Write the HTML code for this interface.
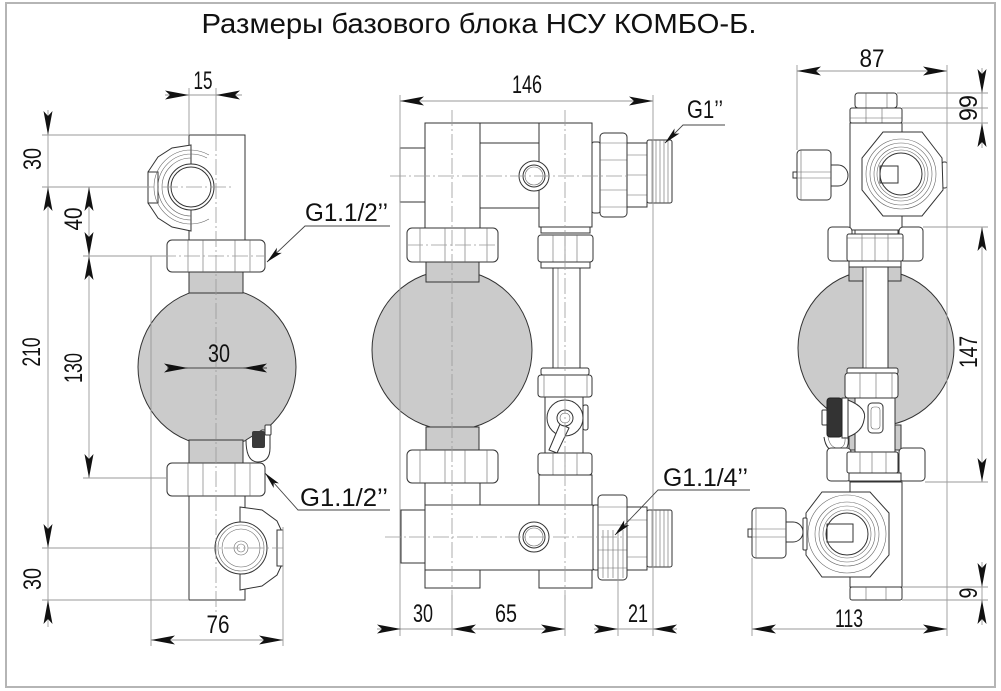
<!DOCTYPE html>
<html><head><meta charset="utf-8"><style>
html,body{margin:0;padding:0;background:#fff;}
svg{display:block;}
</style></head><body>
<svg width="1001" height="691" viewBox="0 0 1001 691" xmlns="http://www.w3.org/2000/svg">
<defs>
<path id="a" d="M0,0 L-24,-4.5 L-19,0 L-24,4.5 Z" fill="#111"/>
<path id="b" d="M0,0 L-17,-3.5 L-13,0 L-17,3.5 Z" fill="#111"/>
</defs>
<style>
.o{fill:#fff;stroke:#333;stroke-width:1}
.l{fill:none;stroke:#333;stroke-width:1}
.t{fill:none;stroke:#666;stroke-width:.6}
.d{fill:none;stroke:#9a9a9a;stroke-width:.9}
.k{fill:none;stroke:#444;stroke-width:.9}
.c{fill:none;stroke:#999;stroke-width:.8;stroke-dasharray:16 3 2 3}
.g{fill:#cbcbcb;stroke:#333;stroke-width:1}
.n{font-family:"Liberation Sans",sans-serif;font-size:25px;fill:#111}
</style>
<rect x="0" y="0" width="1001" height="691" fill="#fff"/>
<rect x="6" y="3" width="989" height="684" fill="none" stroke="#b5b5b5" stroke-width="2"/>
<text x="479" y="33" font-family="Liberation Sans, sans-serif" font-size="28" fill="#111" text-anchor="middle" textLength="555" lengthAdjust="spacingAndGlyphs">Размеры базового блока НСУ КОМБО-Б.</text>

<!-- ============ LEFT VIEW ============ -->
<circle cx="217" cy="367" r="79" class="g"/>
<rect x="189" y="272" width="54" height="21" class="g"/>
<rect x="189" y="440" width="54" height="23" class="g"/>
<rect x="189" y="135" width="56" height="105" class="o"/>
<rect x="189" y="496" width="56" height="104" class="o"/>
<!-- top fitting -->
<path class="o" d="M191,145 L172,148 L158,157 L148,172 L148,203 L158,218 L172,227 L191,231 Z"/>
<rect x="148" y="172" width="10" height="31" class="o"/>
<path class="t" d="M191,150 A37,37 0 0 0 191,224 M191,154 A33,33 0 0 0 191,220 M191,158 A29,29 0 0 0 191,216 M191,150 A37,37 0 0 1 209,155 M191,154 A33,33 0 0 1 207,158 M191,224 A37,37 0 0 0 209,219"/>
<circle cx="191" cy="187" r="23" class="o"/>
<circle cx="191" cy="187" r="20" class="l" stroke-width="1.3"/>
<!-- nuts -->
<rect x="167" y="240" width="98" height="32" rx="5" class="o"/>
<path class="t" d="M188,240V272M203,240V272M235,240V272M250,240V272"/>
<rect x="167" y="463" width="98" height="33" rx="5" class="o"/>
<path class="t" d="M188,463V496M203,463V496M235,463V496M250,463V496"/>
<!-- small valve -->
<path class="o" d="M246,440 Q246,462 258,462 Q270,462 270,448 L270,430 L262,430 Z"/>
<rect x="252" y="431" width="13" height="17" rx="2" fill="#3a3a3a"/>
<rect x="265" y="425" width="6" height="10" rx="1" class="o"/>
<!-- lower fitting -->
<path class="o" d="M240,507 L262,510 L277,521 L283,534 L283,562 L277,575 L262,586 L240,590 Z"/>
<rect x="277" y="530" width="6" height="36" class="o"/>
<circle cx="241" cy="548" r="26" class="o"/>
<circle cx="241" cy="548" r="23" class="t"/>
<circle cx="241" cy="548" r="19" class="t"/>
<circle cx="241" cy="548" r="7" class="t"/>
<circle cx="241" cy="548" r="4" class="t"/>
<!-- center lines -->
<path class="c" d="M216,135V612 M42,187H232 M160,256H265 M200,548H283"/>
<!-- dims -->
<path class="d" d="M165,95H242 M189,88V135 M216,88V135 M48,110V627 M42,135H189 M42,187H150 M89,187V478 M83,256H167 M83,478H167 M42,548H200 M42,600H189 M151,256V646 M283,527V646 M151,640H283"/>
<path class="k" d="M167,368H267"/>
<use href="#a" transform="translate(189,95)"/>
<use href="#a" transform="translate(216,95) rotate(180)"/>
<use href="#a" transform="translate(48,135) rotate(90)"/>
<use href="#a" transform="translate(48,187) rotate(-90)"/>
<use href="#a" transform="translate(89,187) rotate(-90)"/>
<use href="#a" transform="translate(89,256) rotate(90)"/>
<use href="#a" transform="translate(89,256) rotate(-90)"/>
<use href="#a" transform="translate(89,478) rotate(90)"/>
<use href="#a" transform="translate(48,548) rotate(90)"/>
<use href="#a" transform="translate(48,600) rotate(-90)"/>
<use href="#a" transform="translate(188,368)"/>
<use href="#a" transform="translate(243,368) rotate(180)"/>
<use href="#a" transform="translate(151,640) rotate(180)"/>
<use href="#a" transform="translate(283,640)"/>
<!-- leaders -->
<path class="k" d="M267,262L305,226H390 M265,473L298,510H390"/>
<use href="#b" transform="translate(267,262) rotate(136.5)"/>
<use href="#b" transform="translate(265,473) rotate(228.3)"/>
<!-- texts -->
<text class="n" x="203" y="89" text-anchor="middle" textLength="19" lengthAdjust="spacingAndGlyphs">15</text>
<text class="n" x="219" y="362" text-anchor="middle" textLength="22" lengthAdjust="spacingAndGlyphs">30</text>
<text class="n" x="218" y="633" text-anchor="middle" textLength="23" lengthAdjust="spacingAndGlyphs">76</text>
<text class="n" transform="translate(41,159) rotate(-90)" text-anchor="middle" textLength="22" lengthAdjust="spacingAndGlyphs">30</text>
<text class="n" transform="translate(82,219) rotate(-90)" text-anchor="middle" textLength="23" lengthAdjust="spacingAndGlyphs">40</text>
<text class="n" transform="translate(40,352) rotate(-90)" text-anchor="middle" textLength="29" lengthAdjust="spacingAndGlyphs">210</text>
<text class="n" transform="translate(82,368) rotate(-90)" text-anchor="middle" textLength="30" lengthAdjust="spacingAndGlyphs">130</text>
<text class="n" transform="translate(41,579) rotate(-90)" text-anchor="middle" textLength="22" lengthAdjust="spacingAndGlyphs">30</text>
<text class="n" x="305" y="221" textLength="83" lengthAdjust="spacingAndGlyphs">G1.1/2’’</text>
<text class="n" x="300" y="506" textLength="88" lengthAdjust="spacingAndGlyphs">G1.1/2’’</text>

<!-- ============ MIDDLE VIEW ============ -->
<circle cx="452" cy="350" r="80" class="g"/>
<rect x="426" y="262" width="53" height="20" class="g"/>
<rect x="426" y="427" width="53" height="23" class="g"/>
<rect x="400" y="148" width="25" height="54" class="o"/>
<rect x="425" y="123" width="55" height="105" class="o"/>
<rect x="480" y="143" width="59" height="65" class="o"/>
<path class="l" d="M480,123H539"/>
<rect x="539" y="123" width="53" height="104" class="o"/>
<rect x="541" y="227" width="49" height="6" class="o"/>
<circle cx="534" cy="176" r="15" class="o"/>
<circle cx="534" cy="176" r="11" class="l"/>
<circle cx="534" cy="176" r="9" class="t"/>
<!-- upper right fitting G1 -->
<rect x="592" y="142" width="8" height="71" rx="2" class="o"/>
<rect x="600" y="133" width="27" height="84" rx="4" class="o"/>
<path class="t" d="M600,143H627M600,160H627M600,190H627M600,207H627"/>
<rect x="627" y="143" width="20" height="64" class="o"/>
<path class="t" d="M627,155H647M627,195H647M627,175H647"/>
<rect x="647" y="140" width="25" height="63" rx="2" class="o"/>
<path class="t" d="M652,140V203M656,140V203M660,140V203M664,140V203M668,140V203"/>
<!-- left nuts -->
<rect x="407" y="228" width="91" height="34" rx="5" class="o"/>
<path class="t" d="M420,228V262M445,228V262M465,228V262M487,228V262"/>
<rect x="407" y="450" width="91" height="33" rx="5" class="o"/>
<path class="t" d="M420,450V483M445,450V483M465,450V483M487,450V483"/>
<rect x="425" y="483" width="55" height="22" class="o"/>
<!-- right tube & valve -->
<rect x="553" y="268" width="27" height="100" class="o"/>
<path class="t" d="M558,268V368"/>
<rect x="538" y="235" width="55" height="27" rx="3" class="o"/>
<path class="t" d="M553,235V262M565,235V262M577,235V262"/>
<rect x="541" y="262" width="49" height="6" class="o"/>
<rect x="541" y="368" width="48" height="7" rx="2" class="o"/>
<rect x="538" y="375" width="54" height="22" rx="3" class="o"/>
<path class="t" d="M544,375V397M565,375V397M587,375V397"/>
<rect x="545" y="397" width="38" height="56" class="o"/>
<rect x="583" y="405" width="5" height="25" rx="2" class="o"/>
<circle cx="565" cy="418" r="18" class="o"/>
<polygon class="o" points="560,424 569,428 557,453 549,450"/>
<circle cx="565" cy="418" r="8" class="o"/>
<circle cx="565" cy="418" r="5" class="t"/>
<rect x="538" y="453" width="54" height="22" rx="3" class="o"/>
<path class="t" d="M553,453V475M565,453V475M577,453V475"/>
<rect x="539" y="475" width="53" height="30" class="o"/>
<!-- manifold -->
<rect x="401" y="510" width="24" height="53" class="o"/>
<rect x="425" y="505" width="168" height="65" class="o"/>
<rect x="425" y="570" width="55" height="18" class="o"/>
<rect x="539" y="570" width="53" height="18" class="o"/>
<circle cx="534" cy="537" r="15" class="o"/>
<circle cx="534" cy="537" r="11" class="l"/>
<circle cx="534" cy="537" r="9" class="t"/>
<!-- lower right fitting -->
<rect x="593" y="505" width="6" height="65" rx="2" class="o"/>
<rect x="598" y="495" width="29" height="85" rx="4" class="o"/>
<path class="t" d="M598,507H627M598,525H627M598,550H627M598,568H627M603,530V578M608,530V578M613,530V578M618,530V578M623,530V578"/>
<rect x="627" y="507" width="20" height="63" class="o"/>
<path class="t" d="M627,520H647M627,557H647M627,537H647"/>
<rect x="647" y="510" width="25" height="57" rx="2" class="o"/>
<path class="t" d="M652,510V567M656,510V567M660,510V567M664,510V567M668,510V567"/>
<!-- center lines -->
<path class="c" d="M390,176H630 M385,537H625 M452,110V600 M565,110V600 M407,245H498"/>
<!-- dims -->
<path class="d" d="M400,101H653 M400,95V636 M653,95V636 M452,595V636 M565,595V636 M377,629H565 M594,629H677 M618,540V636"/>
<use href="#a" transform="translate(400,101) rotate(180)"/>
<use href="#a" transform="translate(653,101)"/>
<use href="#a" transform="translate(401,629)"/>
<use href="#a" transform="translate(452,629) rotate(180)"/>
<use href="#a" transform="translate(565,629)"/>
<use href="#a" transform="translate(618,629)"/>
<use href="#a" transform="translate(653,629) rotate(180)"/>
<path class="k" d="M665,143L683,125H725 M615,535L658,490H750"/>
<use href="#b" transform="translate(665,143) rotate(135)"/>
<use href="#b" transform="translate(615,535) rotate(133.7)"/>
<text class="n" x="527" y="93" text-anchor="middle" textLength="30" lengthAdjust="spacingAndGlyphs">146</text>
<text class="n" x="423" y="622" text-anchor="middle" textLength="20" lengthAdjust="spacingAndGlyphs">30</text>
<text class="n" x="506" y="622" text-anchor="middle" textLength="22" lengthAdjust="spacingAndGlyphs">65</text>
<text class="n" x="638" y="622" text-anchor="middle" textLength="20" lengthAdjust="spacingAndGlyphs">21</text>
<text class="n" x="687" y="118" textLength="36" lengthAdjust="spacingAndGlyphs">G1’’</text>
<text class="n" x="663" y="486" textLength="85" lengthAdjust="spacingAndGlyphs">G1.1/4’’</text>

<!-- ============ RIGHT VIEW ============ -->
<circle cx="876" cy="348" r="78" class="g"/>
<rect x="849" y="267" width="52" height="14" class="g"/>
<rect x="849" y="425" width="52" height="25" class="g"/>
<!-- top caps & body -->
<rect x="855" y="93" width="42" height="15" rx="3" class="o"/>
<path class="t" d="M866,93V108M887,93V108"/>
<rect x="850" y="108" width="52" height="15" rx="2" class="o"/>
<path class="t" d="M866,108V123M882,108V123M850,118H902"/>
<rect x="850" y="123" width="52" height="107" class="o"/>
<rect x="855" y="230" width="43" height="6" class="o"/>
<!-- upper fitting -->
<rect x="942" y="162" width="5" height="26" rx="2" class="o"/>
<path class="o" d="M883,132 L922,132 L942,158 L943,190 L922,216 L883,216 L862,190 L862,158 Z"/>
<circle cx="901" cy="174" r="35" class="t"/>
<circle cx="901" cy="174" r="31" class="t"/>
<circle cx="901" cy="174" r="27" class="t"/>
<circle cx="901" cy="174" r="24" class="t"/>
<circle cx="901" cy="174" r="21" class="l" stroke-width="1.4"/>
<rect x="880" y="166" width="18" height="17" class="l"/>
<!-- upper left knob -->
<rect x="793" y="172" width="5" height="6" class="o"/>
<path class="o" d="M831,165 L838,165 A10,10.5 0 0 1 838,186 L831,186 Z"/>
<rect x="797" y="150" width="34" height="50" rx="4" class="o"/>
<path class="t" d="M797,172H831M797,178H831M801,150V200"/>
<!-- upper wide nut -->
<rect x="828" y="227" width="24" height="34" rx="4" class="o"/>
<rect x="899" y="227" width="24" height="34" rx="4" class="o"/>
<rect x="847" y="234" width="56" height="27" rx="2" class="o"/>
<path class="t" d="M862,234V261M875,234V261M888,234V261M847,238H903"/>
<rect x="849" y="261" width="52" height="6" class="o"/>
<rect x="863" y="267" width="25" height="101" class="o"/>
<path class="t" d="M866,267V368"/>
<!-- valve -->
<rect x="847" y="368" width="51" height="6" rx="2" class="o"/>
<rect x="845" y="373" width="53" height="25" rx="3" class="o"/>
<path class="t" d="M860,373V398M892,373V398M876,373V398"/>
<rect x="855" y="398" width="40" height="54" class="o"/>
<rect x="868" y="403" width="15" height="30" rx="4" class="o"/>
<rect x="871" y="407" width="9" height="22" rx="3" class="t"/>
<path class="o" d="M848,400 Q868,408 864,420 Q862,432 848,437 Z"/>
<rect x="842" y="398" width="6" height="40" class="o"/>
<rect x="827" y="398" width="15" height="39" rx="3" fill="#333" stroke="#222"/>
<rect x="822" y="410" width="5" height="15" rx="1" class="o"/>
<path class="l" d="M824,437 Q826,452 838,452 Q850,452 848,437"/>
<path class="t" d="M828,437 Q830,448 838,448 Q846,448 845,437"/>
<!-- lower wide nut -->
<rect x="827" y="448" width="24" height="33" rx="4" class="o"/>
<rect x="899" y="448" width="26" height="33" rx="4" class="o"/>
<rect x="847" y="452" width="51" height="21" rx="2" class="o"/>
<path class="t" d="M860,452V473M872,452V473M886,452V473"/>
<rect x="849" y="473" width="52" height="8" class="o"/>
<rect x="850" y="482" width="52" height="105" class="o"/>
<!-- lower fitting -->
<path class="o" d="M822,492 L870,492 L889,513 L889,555 L870,577 L822,577 L806,555 L806,513 Z"/>
<circle cx="847" cy="534" r="39" class="t"/>
<circle cx="847" cy="534" r="32" class="t"/>
<circle cx="847" cy="534" r="28" class="t"/>
<circle cx="847" cy="534" r="24" class="t"/>
<circle cx="847" cy="534" r="21" class="l" stroke-width="1.4"/>
<rect x="827" y="524" width="26" height="18" class="l"/>
<!-- lower knob -->
<rect x="748" y="529" width="5" height="8" class="o"/>
<path class="o" d="M786,522 L793,522 A10,10 0 0 1 793,542 L786,542 Z"/>
<rect x="803" y="518" width="4" height="32" rx="1" class="o"/>
<rect x="752" y="508" width="34" height="50" rx="4" class="o"/>
<path class="t" d="M752,529H786M752,537H786M756,508V558"/>
<!-- bottom cap -->
<rect x="850" y="587" width="52" height="13" rx="2" class="o"/>
<path class="t" d="M866,587V600M886,587V600"/>
<!-- dims -->
<path class="d" d="M797,71H947 M797,65V150 M947,65V636 M982,68V148 M897,93H988 M902,108H988 M902,123H988 M982,227V482 M923,227H988 M925,482H988 M982,562V625 M902,587H988 M902,600H988 M752,629H947 M752,558V636"/>
<use href="#a" transform="translate(797,71) rotate(180)"/>
<use href="#a" transform="translate(947,71)"/>
<use href="#a" transform="translate(982,93) rotate(90)"/>
<use href="#a" transform="translate(982,123) rotate(-90)"/>
<use href="#a" transform="translate(982,227) rotate(-90)"/>
<use href="#a" transform="translate(982,482) rotate(90)"/>
<use href="#a" transform="translate(982,587) rotate(90)"/>
<use href="#a" transform="translate(982,600) rotate(-90)"/>
<use href="#a" transform="translate(752,629) rotate(180)"/>
<use href="#a" transform="translate(947,629)"/>
<text class="n" x="872" y="67" text-anchor="middle" textLength="25" lengthAdjust="spacingAndGlyphs">87</text>
<text class="n" x="849" y="627" text-anchor="middle" textLength="28" lengthAdjust="spacingAndGlyphs">113</text>
<text class="n" transform="translate(977,108) rotate(-90)" text-anchor="middle" textLength="26" lengthAdjust="spacingAndGlyphs">99</text>
<text class="n" transform="translate(977,352) rotate(-90)" text-anchor="middle" textLength="32" lengthAdjust="spacingAndGlyphs">147</text>
<text class="n" transform="translate(977,593) rotate(-90)" text-anchor="middle" textLength="11" lengthAdjust="spacingAndGlyphs">9</text>
</svg>
</body></html>
